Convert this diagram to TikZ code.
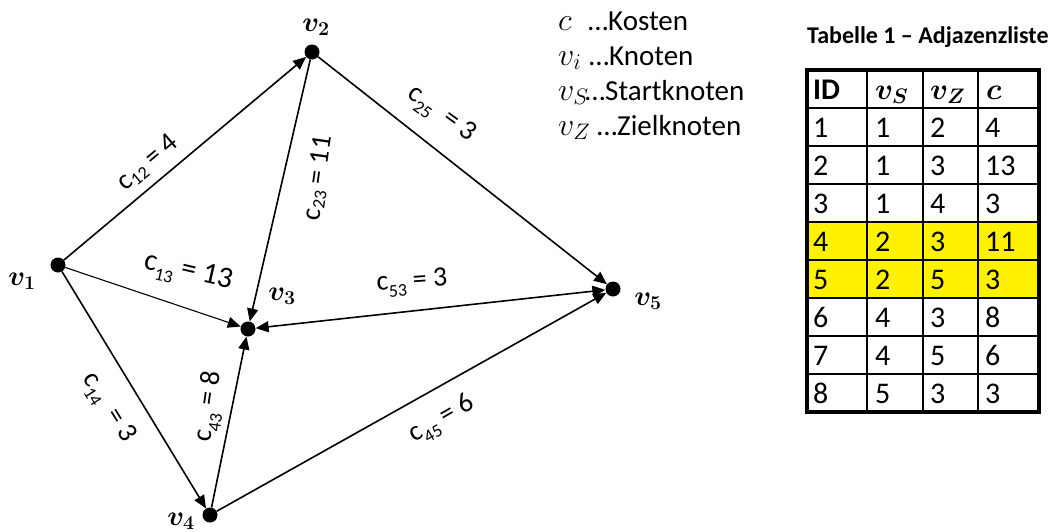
\RequirePackage{fix-cm}
\documentclass[tikz,border=0pt]{standalone}
\usepackage{amsmath,bm}
\usepackage{fontspec}
\setmainfont{Carlito}
\usetikzlibrary{arrows.meta}
\newcommand{\lsub}[1]{\raisebox{-0.55ex}{\fontsize{18}{18}\selectfont #1}}
\newcommand{\hsub}[1]{\raisebox{-0.25ex}{\fontsize{18}{18}\selectfont #1}}
\newcommand{\mth}[1]{{\fontsize{32}{34}\selectfont$#1$}}
\tikzset{
  vtx/.style={circle,fill=black,inner sep=0pt,minimum size=15pt},
  edge/.style={line width=1.6pt,-{Triangle[length=13pt,width=11pt]}},
  thinedge/.style={line width=1.1pt,-{Triangle[length=13pt,width=11pt]}},
  bothedge/.style={line width=1.6pt,{Triangle[length=13pt,width=11pt]}-{Triangle[length=13pt,width=11pt]}},
  vlab/.style={inner sep=0pt,font=\fontsize{28}{30}\selectfont},
  lab/.style={inner sep=0pt,font=\fontsize{28}{30}\selectfont},
  leg/.style={inner sep=0pt,anchor=base west,font=\fontsize{29}{32}\selectfont},
  cell/.style={inner sep=0pt,anchor=base west,font=\fontsize{30}{32}\selectfont},
  hcell/.style={cell,font=\fontsize{30}{32}\selectfont\bfseries},
}
\begin{document}
\begin{tikzpicture}[x=1pt,y=-1pt]
\useasboundingbox (0,0) rectangle (1055,531);
% vertices
\node[vtx] (v1) at (58,265) {};
\node[vtx] (v2) at (312,52) {};
\node[vtx] (v3) at (248,329) {};
\node[vtx] (v4) at (210,515) {};
\node[vtx] (v5) at (613,289) {};
\node[vlab] (n1) at (22,281) {$\bm{v_1}$};
\node[vlab] (n2) at (316,27) {$\bm{v_2}$};
\node[vlab] (n3) at (282,296) {$\bm{v_3}$};
\node[vlab] (n4) at (181,521) {$\bm{v_4}$};
\node[vlab] (n5) at (648,301) {$\bm{v_5}$};
% edges
\draw[edge] (v1) -- (v2);
\draw[thinedge] (v1) -- (v3);
\draw[edge] (v1) -- (v4);
\draw[edge] (v2) -- (v3);
\draw[edge] (v2) -- (v5);
\draw[bothedge] (v3) -- (v5);
\draw[edge] (v4) -- (v3);
\draw[edge] (v4) -- (v5);
% edge labels
\node[lab,rotate=40] (l12) at (148,163) {c\hsub{12} = 4};
\node[lab,rotate=82] (l23) at (318,178) {c\hsub{23} = 11};
\node[lab,rotate=-36] (l25) at (441,115) {c\lsub{25}\ \ = 3};
\node[lab,rotate=-13,font=\fontsize{30}{32}\selectfont] (l13) at (188,273) {c\lsub{13} = 13};
\node[lab,rotate=4] (l53) at (412,283) {c\lsub{53} = 3};
\node[lab,rotate=-58] (l14) at (108,408) {c\lsub{14}\ \ = 3};
\node[lab,rotate=82] (l43) at (210,407) {c\lsub{43} = 8};
\node[lab,rotate=30] (l45) at (442,420) {c\lsub{45} = 6};
% legend
\node[leg] (g1) at (558,30) {\makebox[30pt][l]{\mth{c}}…Kosten};
\node[leg] (g2) at (558,65) {\makebox[31pt][l]{\mth{v_i}}…Knoten};
\node[leg] (g3) at (558,100) {\makebox[27pt][l]{\mth{v_S}}…Startknoten};
\node[leg] (g4) at (558,135) {\makebox[39pt][l]{\mth{v_Z}}…Zielknoten};
% table
\node[inner sep=0pt,anchor=base west,font=\fontsize{24}{26}\selectfont\bfseries] (title) at (807,43) {Tabelle 1 – Adjazenzliste};
\fill[yellow] (807,222) rectangle (1039,298);
\foreach \yy in {146,184,222,260,298,336,374} \draw[line width=1.8pt] (807,\yy) -- (1039,\yy);
\draw[line width=2.6pt] (807,108) -- (1039,108);
\draw[line width=2.8pt] (867,70) -- (867,412);
\draw[line width=1.6pt] (923,70) -- (923,412);
\draw[line width=1.6pt] (978,70) -- (978,412);
\draw[line width=3.2pt] (807,70) rectangle (1039,412);
\node[hcell] (h1) at (813,99) {ID};
\node[hcell] (h2) at (875,99) {$\bm{v_S}$};
\node[hcell] (h3) at (930,99) {$\bm{v_Z}$};
\node[hcell] (h4) at (986,99) {$\bm{c}$};
\foreach \r/\a/\b/\c/\d in {1/1/1/2/4,2/2/1/3/13,3/3/1/4/3,4/4/2/3/11,5/5/2/5/3,6/6/4/3/8,7/7/4/5/6,8/8/5/3/3}{
  \pgfmathsetmacro{\yc}{108+38*(\r-0.5)+10}
  \node[cell] (c\r a) at (813,\yc) {\a};
  \node[cell] (c\r b) at (875,\yc) {\b};
  \node[cell] (c\r c) at (930,\yc) {\c};
  \node[cell] (c\r d) at (985,\yc) {\d};
}
\end{tikzpicture}
\end{document}
